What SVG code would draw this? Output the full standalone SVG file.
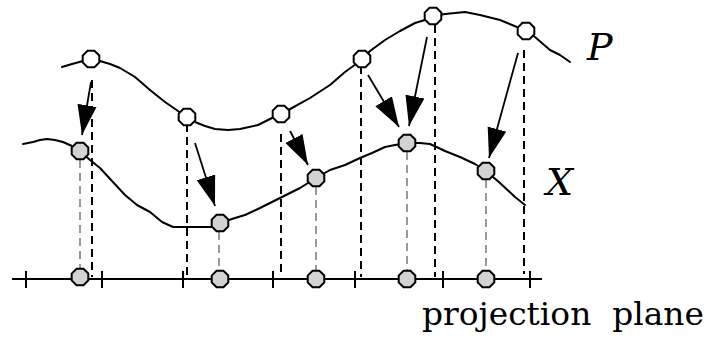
<svg xmlns="http://www.w3.org/2000/svg" width="706" height="342" viewBox="0 0 706 342">
<style>
.curve{fill:none;stroke:#000;stroke-width:2;stroke-linejoin:round;stroke-linecap:round}
.dash{stroke:#000;stroke-width:2;stroke-dasharray:8,5;fill:none}
.gdash{stroke:#999;stroke-width:2;stroke-dasharray:8,5;fill:none}
.axis{stroke:#000;stroke-width:2;fill:none}
.arrow{stroke:#000;stroke-width:1.8;fill:none;marker-end:url(#ah)}
.pnode{fill:#fff;stroke:#000;stroke-width:2}
.xnode{fill:#d3d3d3;stroke:#000;stroke-width:2}
.lbl{font-family:"DejaVu Serif","Liberation Serif",serif;fill:#000}
</style>
<defs>
<marker id="ah" markerUnits="userSpaceOnUse" markerWidth="30" markerHeight="20" viewBox="0 0 28 18" refX="28" refY="9" orient="auto">
<path d="M0,0 L28,9 L0,18 Z" fill="#000"/>
</marker>
<polygon id="oct" points="8.3,-3.45 3.45,-8.3 -3.45,-8.3 -8.3,-3.45 -8.3,3.45 -3.45,8.3 3.45,8.3 8.3,3.45"/>
</defs>
<g id="curves">
<polyline id="curveP" class="curve" points="62,67 72,64 83,61 91,59 100,61 110,64 120,68 135,77 150,90 165,102 178,111 187,117 195,122 205,126 215,129 228,130 240,129 258,125 272,118 281,114 292,108 310,98 330,85 345,72 356,64 362,59 370,51 385,40 400,31 415,23 425,20 433,16 445,14 455,13 465,12 480,15 500,20 517,27 526,31 535,37 543,44 550,50 560,55 570,62"/>
<polyline id="curveX" class="curve" points="23,144 33,142 40,140 47,139 55,140 63,142 72,146 80,151 90,160 100,168 112,181 125,195 137,205 150,212 162,222 173,227 190,227 205,227 213,227 220,223 235,218 245,215 260,208 280,198 300,188 316,178 330,170 345,165 360,158 372,153 385,147 395,145 407,143 420,143 430,144 445,151 460,157 475,164 486,171 500,183 515,197 525,205"/>
</g>
<g id="axis">
<line class="axis" x1="12" y1="279" x2="542" y2="279"/>
<line class="axis" x1="26" y1="271" x2="26" y2="288"/>
<line class="axis" x1="102" y1="271" x2="102" y2="288"/>
<line class="axis" x1="183" y1="271" x2="183" y2="288"/>
<line class="axis" x1="273" y1="271" x2="273" y2="288"/>
<line class="axis" x1="355" y1="271" x2="355" y2="288"/>
<line class="axis" x1="443" y1="271" x2="443" y2="288"/>
<line class="axis" x1="530" y1="271" x2="530" y2="288"/>
</g>
<g id="connectors">
<line class="dash" x1="92" y1="80" x2="92" y2="277"/>
<line class="dash" x1="187" y1="124" x2="187" y2="277"/>
<line class="dash" x1="281" y1="134" x2="281" y2="272"/>
<line class="dash" x1="361" y1="66" x2="361" y2="277"/>
<line class="dash" x1="435" y1="25" x2="435" y2="277"/>
<line class="dash" x1="524" y1="50" x2="524" y2="274"/>
<line class="gdash" x1="80" y1="160" x2="80" y2="271"/>
<line class="gdash" x1="219" y1="232" x2="219" y2="271"/>
<line class="gdash" x1="316" y1="187" x2="316" y2="271"/>
<line class="gdash" x1="407" y1="152" x2="407" y2="271"/>
<line class="gdash" x1="486" y1="180" x2="486" y2="271"/>
<line class="arrow" x1="91" y1="82" x2="82" y2="135"/>
<line class="arrow" x1="195" y1="143" x2="215" y2="206"/>
<line class="arrow" x1="290" y1="131" x2="308" y2="165"/>
<line class="arrow" x1="368" y1="75" x2="399" y2="127"/>
<line class="arrow" x1="427" y1="37" x2="409" y2="126"/>
<line class="arrow" x1="518" y1="53" x2="489" y2="158"/>
</g>
<g id="p1"><use href="#oct" class="pnode" x="91" y="59"/></g>
<g id="p2"><use href="#oct" class="pnode" x="187" y="117"/></g>
<g id="p3"><use href="#oct" class="pnode" x="281" y="114"/></g>
<g id="p4"><use href="#oct" class="pnode" x="362" y="59"/></g>
<g id="p5"><use href="#oct" class="pnode" x="433" y="16"/></g>
<g id="p6"><use href="#oct" class="pnode" x="526" y="31"/></g>
<g id="x1"><use href="#oct" class="xnode" x="80" y="151"/></g>
<g id="x2"><use href="#oct" class="xnode" x="220" y="223"/></g>
<g id="x3"><use href="#oct" class="xnode" x="316" y="178"/></g>
<g id="x4"><use href="#oct" class="xnode" x="407" y="143"/></g>
<g id="x5"><use href="#oct" class="xnode" x="486" y="171"/></g>
<g id="b1"><use href="#oct" class="xnode" x="80" y="277"/></g>
<g id="b2"><use href="#oct" class="xnode" x="220" y="279"/></g>
<g id="b3"><use href="#oct" class="xnode" x="316" y="279"/></g>
<g id="b4"><use href="#oct" class="xnode" x="407" y="279"/></g>
<g id="b5"><use href="#oct" class="xnode" x="486" y="279"/></g>
<g id="labels">
<text class="lbl" x="587" y="60" font-size="38" font-style="italic">P</text>
<text class="lbl" x="546" y="195" font-size="38" font-style="italic">X</text>
<text class="lbl" x="422" y="325" font-size="31" textLength="282" lengthAdjust="spacingAndGlyphs" xml:space="preserve">projection  plane</text>
</g>
</svg>
